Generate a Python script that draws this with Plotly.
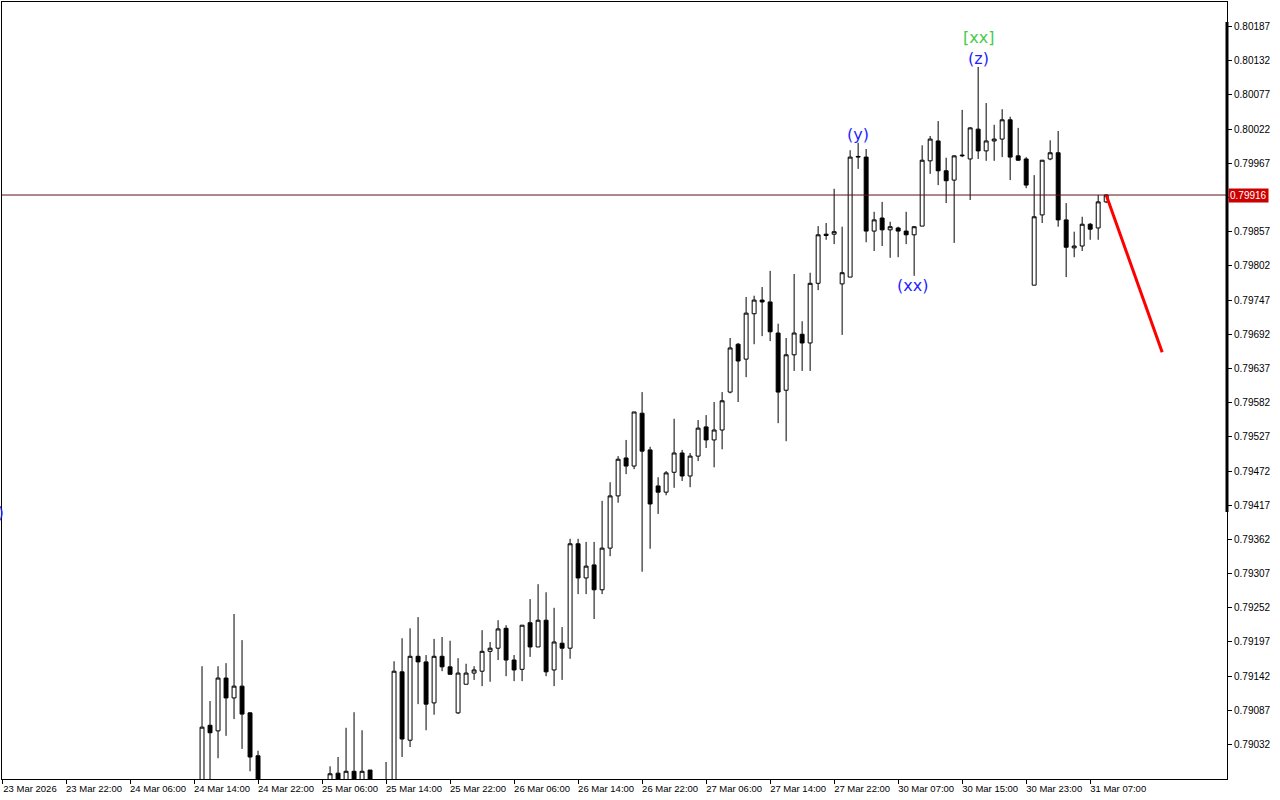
import plotly.graph_objects as go

# ---------------- data (H1 bars, index = bar number from 23 Mar 14:00) ----------------
bar_index = [25, 26, 27, 28, 29, 30, 31, 32,
             41, 42, 43, 44, 45, 46,
             48, 49, 50, 51, 52, 53, 54, 55, 56, 57, 58, 59, 60, 61, 62, 63, 64, 65, 66, 67, 68, 69,
             70, 71, 72, 73, 74, 75, 76, 77, 78, 79, 80, 81, 82, 83, 84, 85, 86, 87, 88, 89,
             90, 91, 92, 93, 94, 95, 96, 97, 98, 99, 100, 101, 102, 103, 104, 105, 106, 107, 108, 109,
             110, 111, 112, 113, 114, 115, 116, 117, 118, 119, 120, 121, 122, 123, 124, 125, 126, 127, 128, 129,
             130, 131, 132, 133, 134, 135, 136, 137, 138]

open_ = [0.78950, 0.79063, 0.79054, 0.79139, 0.79107, 0.79126, 0.79083, 0.79014,
         0.78960, 0.78986, 0.78965, 0.78989, 0.78960, 0.78991,
         0.78960, 0.78950, 0.79149, 0.79039, 0.79174, 0.79165, 0.79099, 0.79174, 0.79157, 0.79083,
         0.79129, 0.79147, 0.79150, 0.79182, 0.79187, 0.79219, 0.79168, 0.79153, 0.79228, 0.79189,
         0.79232, 0.79152,
         0.79195, 0.79187, 0.79355, 0.79300, 0.79321, 0.79281, 0.79348, 0.79432, 0.79493, 0.79480,
         0.79565, 0.79506, 0.79448, 0.79438, 0.79470, 0.79501, 0.79464, 0.79496, 0.79543, 0.79522,
         0.79538, 0.79599, 0.79676, 0.79652, 0.79725, 0.79747, 0.79744, 0.79694, 0.79602, 0.79659,
         0.79692, 0.79678, 0.79774, 0.79853, 0.79853, 0.79773, 0.79784, 0.79977, 0.79977, 0.79858,
         0.79879, 0.79860, 0.79863, 0.79858, 0.79852, 0.79866, 0.79971, 0.80003, 0.79955, 0.79940,
         0.79979, 0.79974, 0.80022, 0.79987, 0.80003, 0.80006, 0.80037, 0.79979, 0.79974, 0.79771,
         0.79884, 0.79974, 0.79984, 0.79876, 0.79831, 0.79834, 0.79869, 0.79863, 0.79905]

high = [0.79158, 0.79102, 0.79158, 0.79163, 0.79242, 0.79200, 0.79084, 0.79022,
        0.78997, 0.79012, 0.79059, 0.79084, 0.79055, 0.78991,
        0.79004, 0.79166, 0.79203, 0.79219, 0.79237, 0.79176, 0.79202, 0.79205, 0.79199, 0.79171,
        0.79162, 0.79158, 0.79216, 0.79197, 0.79232, 0.79224, 0.79176, 0.79224, 0.79266, 0.79290,
        0.79277, 0.79252,
        0.79221, 0.79363, 0.79363, 0.79358, 0.79358, 0.79424, 0.79454, 0.79496, 0.79522, 0.79567,
        0.79599, 0.79511, 0.79462, 0.79472, 0.79556, 0.79506, 0.79501, 0.79554, 0.79562, 0.79583,
        0.79599, 0.79686, 0.79678, 0.79752, 0.79754, 0.79768, 0.79794, 0.79709, 0.79686, 0.79789,
        0.79713, 0.79791, 0.79866, 0.79871, 0.79926, 0.79865, 0.79988, 0.80000, 0.79990, 0.79889,
        0.79905, 0.79873, 0.79865, 0.79889, 0.79866, 0.79996, 0.80011, 0.80035, 0.79976, 0.79980,
        0.80053, 0.80025, 0.80122, 0.80064, 0.80029, 0.80054, 0.80042, 0.80024, 0.79977, 0.79948,
        0.79972, 0.80004, 0.80019, 0.79903, 0.79857, 0.79881, 0.79871, 0.79916, 0.79917]

low = [0.78940, 0.78950, 0.79010, 0.79046, 0.79073, 0.79025, 0.78989, 0.78930,
       0.78950, 0.78955, 0.78950, 0.78950, 0.78950, 0.78950,
       0.78940, 0.78940, 0.79012, 0.79028, 0.79097, 0.79055, 0.79080, 0.79150, 0.79145, 0.79081,
       0.79129, 0.79136, 0.79126, 0.79133, 0.79168, 0.79142, 0.79134, 0.79134, 0.79173, 0.79189,
       0.79142, 0.79126,
       0.79136, 0.79170, 0.79274, 0.79274, 0.79234, 0.79274, 0.79335, 0.79421, 0.79467, 0.79475,
       0.79310, 0.79347, 0.79403, 0.79433, 0.79445, 0.79456, 0.79446, 0.79488, 0.79509, 0.79478,
       0.79507, 0.79597, 0.79583, 0.79623, 0.79676, 0.79689, 0.79681, 0.79549, 0.79520, 0.79633,
       0.79633, 0.79633, 0.79763, 0.79844, 0.79837, 0.79691, 0.79784, 0.79958, 0.79840, 0.79826,
       0.79834, 0.79815, 0.79816, 0.79837, 0.79786, 0.79866, 0.79950, 0.79932, 0.79903, 0.79839,
       0.79977, 0.79908, 0.79974, 0.79971, 0.79971, 0.79977, 0.79940, 0.79971, 0.79927, 0.79771,
       0.79871, 0.79972, 0.79865, 0.79784, 0.79816, 0.79826, 0.79844, 0.79844, 0.79903]

close = [0.79060, 0.79051, 0.79139, 0.79107, 0.79126, 0.79081, 0.79012, 0.78950,
         0.78985, 0.78965, 0.78989, 0.78960, 0.78989, 0.78960,
         0.78950, 0.79150, 0.79041, 0.79174, 0.79165, 0.79097, 0.79174, 0.79157, 0.79145, 0.79147,
         0.79147, 0.79152, 0.79182, 0.79187, 0.79218, 0.79168, 0.79152, 0.79224, 0.79189, 0.79232,
         0.79149, 0.79197,
         0.79187, 0.79355, 0.79300, 0.79319, 0.79281, 0.79348, 0.79432, 0.79491, 0.79480, 0.79567,
         0.79504, 0.79419, 0.79438, 0.79469, 0.79501, 0.79464, 0.79496, 0.79541, 0.79522, 0.79538,
         0.79585, 0.79670, 0.79649, 0.79726, 0.79747, 0.79744, 0.79696, 0.79599, 0.79659, 0.79694,
         0.79678, 0.79774, 0.79852, 0.79851, 0.79857, 0.79791, 0.79977, 0.79978, 0.79858, 0.79876,
         0.79860, 0.79865, 0.79858, 0.79852, 0.79865, 0.79972, 0.80006, 0.79955, 0.79939, 0.79979,
         0.79980, 0.80024, 0.79987, 0.80003, 0.80006, 0.80037, 0.79977, 0.79972, 0.79932, 0.79881,
         0.79972, 0.79984, 0.79876, 0.79832, 0.79834, 0.79869, 0.79861, 0.79905, 0.79916]

time_tick_index = [0, 8, 16, 24, 32, 40, 48, 56, 64, 72, 80, 88, 96, 104, 112, 120, 128, 136]
time_tick_labels = ["23 Mar 2026", "23 Mar 22:00", "24 Mar 06:00", "24 Mar 14:00", "24 Mar 22:00",
                    "25 Mar 06:00", "25 Mar 14:00", "25 Mar 22:00", "26 Mar 06:00", "26 Mar 14:00",
                    "26 Mar 22:00", "27 Mar 06:00", "27 Mar 14:00", "27 Mar 22:00", "30 Mar 07:00",
                    "30 Mar 15:00", "30 Mar 23:00", "31 Mar 07:00"]

price_ticks = [0.79032, 0.79087, 0.79142, 0.79197, 0.79252, 0.79307, 0.79362, 0.79417, 0.79472,
               0.79527, 0.79582, 0.79637, 0.79692, 0.79747, 0.79802, 0.79857, 0.79912, 0.79967,
               0.80022, 0.80077, 0.80132, 0.80187]

current_price = 0.79916

forecast_index = [138, 145]
forecast_price = [0.79916, 0.79663]

wave_labels = ["(y)", "(xx)", "(z)", "[xx]"]
wave_index = [107, 113.75, 122, 122]
wave_price = [0.80014, 0.79770, 0.80135, 0.80169]
wave_colors = ["#1f1fff", "#1f1fff", "#1f1fff", "#44cc44"]

edge_label_price = 0.79404

# ---------------- figure ----------------
fig = go.Figure()

fig.add_trace(go.Candlestick(
    x=bar_index, open=open_, high=high, low=low, close=close,
    increasing=dict(line=dict(color="black", width=1), fillcolor="white"),
    decreasing=dict(line=dict(color="black", width=1), fillcolor="black"),
    whiskerwidth=0, showlegend=False, hoverinfo="skip",
))

fig.add_trace(go.Scatter(
    x=forecast_index, y=forecast_price, mode="lines",
    line=dict(color="#ff0000", width=3), showlegend=False, hoverinfo="skip",
))

fig.add_hline(y=current_price, line=dict(color="#5a1414", width=1))

for t, xi, yp, col in zip(wave_labels, wave_index, wave_price, wave_colors):
    fig.add_annotation(x=xi, y=yp, text=t, showarrow=False,
                       font=dict(family="DejaVu Sans", size=16, color=col))

fig.add_annotation(x=0, xref="paper", y=edge_label_price, text=")", showarrow=False,
                   xanchor="right", xshift=4,
                   font=dict(family="DejaVu Sans", size=15, color="#1f1fff"))

# current price tag on the right scale (covers the 0.79912 scale label, as in the terminal)
fig.add_annotation(x=1, xref="paper", y=current_price, text="0.79916", showarrow=False,
                   xanchor="left", xshift=1, bgcolor="#cc0000", borderpad=1,
                   font=dict(family="Liberation Sans", size=10, color="white"))

# thick segment on the price scale
fig.add_shape(type="line", xref="paper", yref="paper", x0=1.0, x1=1.0, y0=0.3436, y1=0.9743,
              line=dict(color="black", width=3))

price_tick_text = ["" if abs(v - 0.79912) < 1e-9 else f"{v:.5f}" for v in price_ticks]

fig.update_layout(
    width=1280, height=800,
    margin=dict(l=2, r=53, t=2, b=21),
    paper_bgcolor="white", plot_bgcolor="white",
    font=dict(family="Liberation Sans", size=10, color="black"),
    xaxis=dict(
        type="linear", range=[0, 153.1], rangeslider=dict(visible=False),
        tickmode="array", tickvals=time_tick_index, ticktext=time_tick_labels,
        ticks="outside", ticklen=4, tickcolor="black", ticklabelshift=28, ticklabelstandoff=-3,
        showgrid=False, zeroline=False, showline=True, linecolor="black", linewidth=1, mirror=True,
        tickfont=dict(family="Liberation Sans", size=9.5),
    ),
    yaxis=dict(
        range=[0.789766, 0.802265], side="right",
        tickmode="array", tickvals=price_ticks, ticktext=price_tick_text,
        ticks="outside", ticklen=4, tickcolor="black",
        showgrid=False, zeroline=False, showline=True, linecolor="black", linewidth=1, mirror=True,
        tickfont=dict(family="Liberation Sans", size=10),
    ),
)

fig.write_html("out.html", config={"displayModeBar": False},
               post_script="document.body.style.margin='0';document.body.style.overflow='hidden';")
